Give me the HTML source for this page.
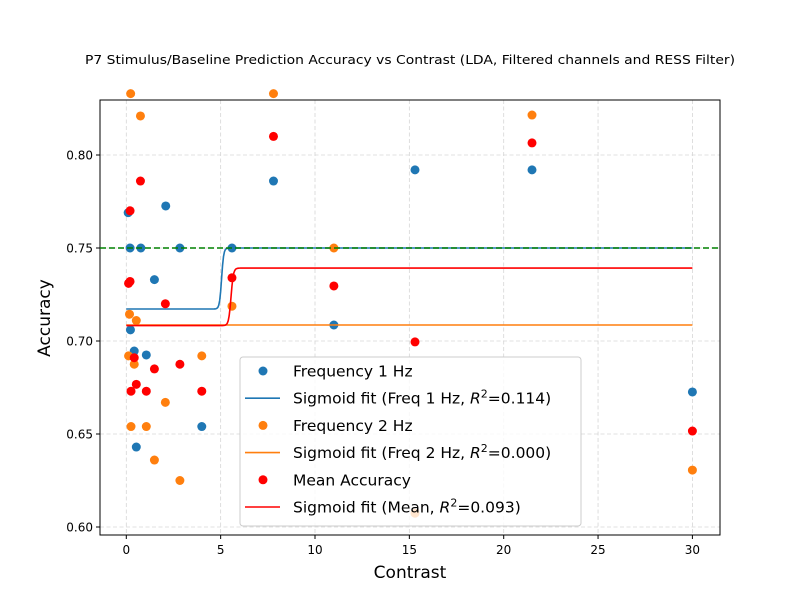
<!DOCTYPE html>
<html><head><meta charset="utf-8"><style>
body{margin:0;background:#fff}
svg{display:block;font-family:"DejaVu Sans","Liberation Sans",sans-serif}
</style></head><body>
<svg id="chart" width="800" height="600" xmlns="http://www.w3.org/2000/svg">
<rect x="0" y="0" width="800" height="600" fill="#fff"/>
<text x="410" y="64" font-size="12" text-anchor="middle" textLength="650" lengthAdjust="spacingAndGlyphs">P7 Stimulus/Baseline Prediction Accuracy vs Contrast (LDA, Filtered channels and RESS Filter)</text>
<g id="grid"></g>
<g id="axes"></g>
<g id="marks"></g>
<g id="legend"></g>
</svg>
<script>
const xTicks=[0,5,10,15,20,25,30];
const yTicks=[0.60,0.65,0.70,0.75,0.80];
const f1X=[0.1,0.2,0.77,2.09,2.84,1.49,0.22,0.42,1.06,4.0,0.53,5.6,7.8,11,15.3,21.5,30];
const f1Y=[0.769,0.75,0.75,0.7726,0.75,0.733,0.706,0.6946,0.6925,0.654,0.643,0.75,0.786,0.7086,0.792,0.792,0.6726];
const f2X=[0.23,0.75,0.17,0.53,0.12,0.42,4.0,2.07,0.25,1.06,1.49,2.84,5.6,7.8,11,15.3,21.5,30];
const f2Y=[0.833,0.821,0.7144,0.711,0.692,0.6875,0.692,0.667,0.654,0.654,0.636,0.625,0.7187,0.833,0.75,0.6074,0.8215,0.6306];
const mX=[0.75,0.2,0.12,0.2,2.07,0.42,2.84,1.49,0.53,0.25,1.06,4.0,5.6,7.8,11,15.3,21.5,30];
const mY=[0.786,0.770,0.731,0.732,0.72,0.691,0.6875,0.685,0.6767,0.673,0.673,0.673,0.734,0.81,0.7296,0.6995,0.8065,0.6516];
// sigmoid fit params: [lower, upper, midpoint, slope]
const fit1=[0.7172,0.75,5.05,18];
const fit2=[0.7086,0.7086,5,1];
const fitM=[0.7083,0.7392,5.55,16];
const baseline=0.75;

const L=100,R=720,T=100,B=535;
const X=v=>126.3+(v-0)*18.87;
const Y=v=>527-(v-0.6)*1860;
const NS="http://www.w3.org/2000/svg";
function mk(tag,attrs,parent,text){const e=document.createElementNS(NS,tag);for(const k in attrs)e.setAttribute(k,attrs[k]);if(text!==undefined)e.textContent=text;parent.appendChild(e);return e;}
const grid=document.getElementById('grid'),axes=document.getElementById('axes'),marks=document.getElementById('marks'),leg=document.getElementById('legend');
xTicks.forEach(t=>{
 const g=mk('line',{x1:X(t),x2:X(t),y1:T,y2:B,stroke:'#d6d6d6','stroke-dasharray':'4,2.5','stroke-width':0.8},grid);
 
 
 mk('line',{x1:X(t),x2:X(t),y1:B,y2:B+4,stroke:'#000'},axes);
 const tx=mk('text',{x:X(t),y:B+19,'font-size':12,'text-anchor':'middle'},axes,String(t));
 
 
});
yTicks.forEach(t=>{
 const g=mk('line',{x1:L,x2:R,y1:Y(t),y2:Y(t),stroke:'#d6d6d6','stroke-dasharray':'4,2.5','stroke-width':0.8},grid);
 
 
 mk('line',{x1:L-4,x2:L,y1:Y(t),y2:Y(t),stroke:'#000'},axes);
 const tx=mk('text',{x:L-7,y:Y(t)+4.5,'font-size':12,'text-anchor':'end'},axes,t.toFixed(2));
 
 
});
const frame=mk('rect',{x:L,y:T,width:R-L,height:B-T,fill:'none',stroke:'#000','stroke-width':1},axes);


const xt=mk('text',{x:410,y:578,'font-size':17,'text-anchor':'middle'},axes,'Contrast');


const yt=mk('text',{x:0,y:0,'font-size':17,'text-anchor':'middle',transform:'translate(50,318) rotate(-90)'},axes,'Accuracy');



function sig(p,x){return p[0]+(p[1]-p[0])/(1+Math.exp(-p[3]*(x-p[2])));}
function fitLine(p,color,name){
 let d='';for(let i=0;i<=600;i++){const x=i*0.05;d+=(i?'L':'M')+X(x).toFixed(2)+','+Y(sig(p,x)).toFixed(2);}
 const e=mk('path',{d:d,fill:'none',stroke:color,'stroke-width':1.6},marks);
 
 
}
function pts(xs,ys,color,name){
 xs.forEach((x,i)=>{const c=mk('circle',{cx:X(x),cy:Y(ys[i]),r:4.5,fill:color},marks);
 
 });
}
pts(f1X,f1Y,'#1f77b4','freq1-point');
fitLine(fit1,'#1f77b4','freq1-sigmoid-fit');
pts(f2X,f2Y,'#ff7f0e','freq2-point');
fitLine(fit2,'#ff7f0e','freq2-sigmoid-fit');
pts(mX,mY,'#ff0000','mean-point');
fitLine(fitM,'#ff0000','mean-sigmoid-fit');
const bl=mk('line',{x1:L,x2:R,y1:Y(baseline),y2:Y(baseline),stroke:'#008000','stroke-width':1.6,'stroke-dasharray':'6,3'},marks);



const lb=mk('rect',{x:240,y:357,width:341,height:169,rx:3,fill:'#fff','fill-opacity':0.8,stroke:'#ccc'},leg);


const entries=[['pt','#1f77b4','Frequency 1 Hz'],['ln','#1f77b4','Sigmoid fit (Freq 1 Hz, |0.114'],['pt','#ff7f0e','Frequency 2 Hz'],['ln','#ff7f0e','Sigmoid fit (Freq 2 Hz, |0.000'],['pt','#ff0000','Mean Accuracy'],['ln','#ff0000','Sigmoid fit (Mean, |0.093']];
entries.forEach((e,i)=>{
 const y=371+i*27.2;
 const g=mk('g',{},leg);
 
 
 if(e[0]=='pt')mk('circle',{cx:263,cy:y,r:4.5,fill:e[1]},g);
 else mk('line',{x1:245,x2:280,y1:y,y2:y,stroke:e[1],'stroke-width':1.6},g);
 const t=mk('text',{x:293,y:y+5.5,'font-size':15.5},g);
 const parts=e[2].split('|');
 t.appendChild(document.createTextNode(parts[0]));
 if(parts.length>1){
  const a=document.createElementNS(NS,'tspan');a.setAttribute('font-style','italic');a.textContent='R';t.appendChild(a);
  const b=document.createElementNS(NS,'tspan');b.setAttribute('font-size','11');b.setAttribute('dy','-6');b.textContent='2';t.appendChild(b);
  const c=document.createElementNS(NS,'tspan');c.setAttribute('dy','6');c.textContent='='+parts[1]+')';t.appendChild(c);
 }
});
</script>
</body></html>
